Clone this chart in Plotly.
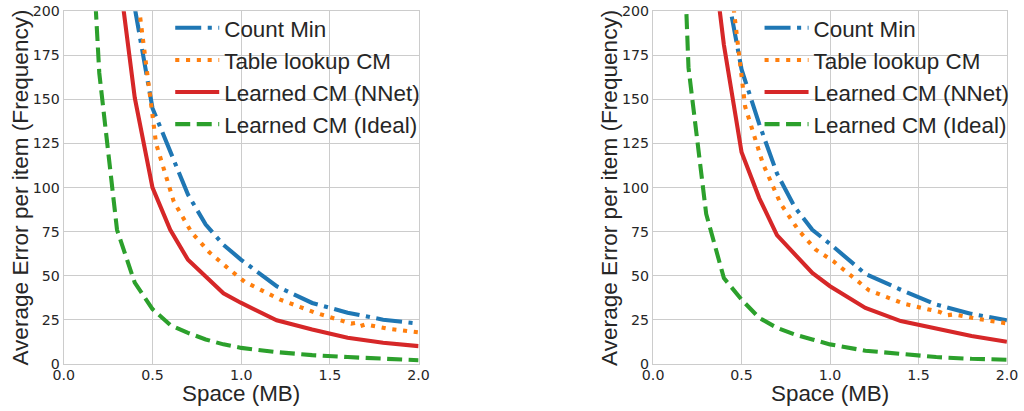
import plotly.graph_objects as go

# ---------------- data ----------------
x_cm_left = [0.3, 0.4, 0.5, 0.6, 0.7, 0.8, 0.9, 1.0, 1.2, 1.4, 1.6, 1.8, 2.0]
cm_left = [300, 202, 145, 121, 96, 79, 67.5, 59, 44, 34.5, 29, 25, 22.8]
x_tl_left = [0.32, 0.42, 0.52, 0.62, 0.72, 0.82, 0.92, 1.02, 1.22, 1.42, 1.62, 1.645, 1.67, 1.70, 1.82, 2.02]
tl_left = [300, 205, 125, 92, 74.6, 63.3, 54.7, 46.5, 36.4, 28.9, 22.8, 23.2, 21.3, 22.3, 20, 17.6]
x_nn_left = [0.3, 0.4, 0.5, 0.6, 0.7, 0.8, 0.9, 1.0, 1.2, 1.4, 1.6, 1.8, 2.0]
nn_left = [230, 151, 100, 76, 59, 49.6, 40, 34.5, 24.7, 19.4, 14.7, 11.9, 10]
x_id_left = [0.1, 0.2, 0.3, 0.4, 0.5, 0.6, 0.7, 0.8, 0.9, 1.0, 1.2, 1.4, 1.6, 1.8, 2.0]
id_left = [350, 165, 76, 46, 31, 22, 17.5, 13.8, 11, 9, 6.6, 4.9, 3.8, 2.8, 2]

x_cm_right = [0.4, 0.5, 0.6, 0.7, 0.8, 0.9, 1.0, 1.2, 1.4, 1.6, 1.8, 2.0]
cm_right = [221, 167, 136, 108, 89, 76, 68, 51, 42, 33.6, 28.3, 24.7]
x_tl_right = [0.42, 0.52, 0.62, 0.72, 0.82, 0.92, 1.02, 1.22, 1.42, 1.62, 1.66, 1.70, 1.82, 2.02]
tl_right = [232, 146, 113.7, 91, 76, 64.7, 58.1, 41.7, 34, 29.4, 27.5, 28, 25.7, 22.6]
x_nn_right = [0.3, 0.4, 0.5, 0.6, 0.7, 0.8, 0.9, 1.0, 1.2, 1.4, 1.6, 1.8, 2.0]
nn_right = [263, 181, 120, 94, 73, 62, 51.5, 44, 31.7, 24.2, 20, 15.7, 12.5]
x_id_right = [0.1, 0.2, 0.3, 0.4, 0.5, 0.6, 0.7, 0.8, 0.9, 1.0, 1.2, 1.4, 1.6, 1.8, 2.0]
id_right = [430, 168, 85, 48.6, 36.4, 26, 20.4, 16.6, 13.8, 11, 7.4, 5.5, 3.8, 2.8, 2.3]

series_names = ["Count Min", "Table lookup CM", "Learned CM (NNet)", "Learned CM (Ideal)"]
x_ticks = [0, 0.5, 1.0, 1.5, 2.0]
x_ticktext = ["0.0", "0.5", "1.0", "1.5", "2.0"]
y_ticks = [0, 25, 50, 75, 100, 125, 150, 175, 200]
x_title = "Space (MB)"
y_title = "Average Error per item (Frequency)"

# ---------------- geometry ----------------
# Positions are measured on the 1024x411 reference; the page keeps an 8px body
# margin and the photo of it is fitted back to 1024x411, so convert each target
# position into figure pixels.
W, H = 1024, 411
OFF = 8
SX, SY = 1024 / 1040, 411 / 427


def fx(x):
    return x / SX - OFF


def fy(y):
    return y / SY - OFF


def px(x):
    return fx(x) / W


def py(y):
    return 1 - fy(y) / H


FONT = "Liberation Sans, Arial, sans-serif"
TICKFONT = "DejaVu Sans, sans-serif"
TXT = "#262626"
GRID = "#cccccc"
LW = 4.1
styles = [
    dict(color="#1f77b4", dash="26px,6.5px,4.1px,6.5px"),
    dict(color="#ff7f0e", dash="4.1px,6.7px"),
    dict(color="#d62728", dash="solid"),
    dict(color="#2ca02c", dash="15px,6.5px"),
]

fig = go.Figure()
panels = [
    ([(x_cm_left, cm_left), (x_tl_left, tl_left), (x_nn_left, nn_left), (x_id_left, id_left)], "x", "y", "legend"),
    ([(x_cm_right, cm_right), (x_tl_right, tl_right), (x_nn_right, nn_right), (x_id_right, id_right)], "x2", "y2", "legend2"),
]
for data, xa, ya, lg in panels:
    for (xs, ys), name, st in zip(data, series_names, styles):
        fig.add_trace(go.Scatter(
            x=xs, y=ys, mode="lines", name=name, xaxis=xa, yaxis=ya, legend=lg,
            line=dict(color=st["color"], width=LW, dash=st["dash"]),
        ))

ydom = [py(364), py(11)]
xdoms = [[px(61), px(418)], [px(654), px(1010)]]

axis_common = dict(
    showgrid=True, gridcolor=GRID, gridwidth=1,
    showline=True, linecolor=GRID, linewidth=1.3, mirror=True,
    zeroline=False, ticks="", ticklabeloverflow="allow",
    tickfont=dict(family=TICKFONT, size=14.2, color=TXT),
)
layout = dict(
    width=W, height=H, autosize=False,
    margin=dict(l=0, r=0, t=0, b=0),
    paper_bgcolor="white", plot_bgcolor="white",
    font=dict(family=FONT, color=TXT),
    showlegend=True,
)
for i, xd in enumerate(xdoms):
    sx = "" if i == 0 else "2"
    layout["xaxis" + sx] = dict(domain=xd, range=[0, 2], tickvals=x_ticks, ticktext=x_ticktext,
                               anchor="y" + sx, ticklabelstandoff=-2, **axis_common)
    layout["yaxis" + sx] = dict(domain=ydom, range=[0, 200], tickvals=y_ticks,
                               anchor="x" + sx, **axis_common)

leg_common = dict(
    bgcolor="rgba(0,0,0,0)", borderwidth=0,
    font=dict(family=FONT, size=22.4, color=TXT),
    xanchor="left", yanchor="top", itemwidth=44, tracegroupgap=0,
)
legend_top = 1 + 1.3 / H
layout["legend"] = dict(x=(fx(174) - 6) / W, y=legend_top, **leg_common)
layout["legend2"] = dict(x=(fx(174 + 593) - 6) / W, y=legend_top, **leg_common)

annotations = []
for i, xd in enumerate(xdoms):
    cx = (xd[0] + xd[1]) / 2
    annotations.append(dict(text=x_title, x=cx, y=py(394), xref="paper", yref="paper",
                            xanchor="center", yanchor="middle", showarrow=False,
                            font=dict(family=FONT, size=22.4, color=TXT)))
    annotations.append(dict(text=y_title, x=px(17 + 593 * i), y=(ydom[0] + ydom[1]) / 2,
                            xref="paper", yref="paper", xanchor="center", yanchor="middle",
                            textangle=-90, showarrow=False,
                            font=dict(family=FONT, size=22.6, color=TXT)))
layout["annotations"] = annotations

fig.update_layout(**layout)
fig.write_html("out.html")
